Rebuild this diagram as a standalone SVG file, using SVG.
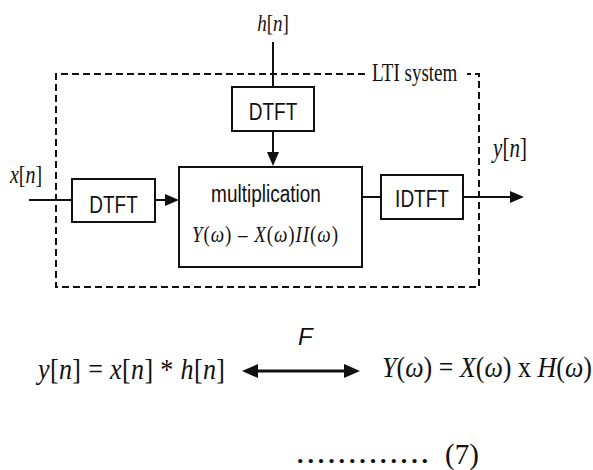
<svg xmlns="http://www.w3.org/2000/svg" width="593" height="470" viewBox="0 0 593 470">
  <style>
    .box { fill: #fff; stroke: #111; stroke-width: 2; }
    .wire { fill: none; stroke: #111; stroke-width: 2; }
    .sans { font-family: "Liberation Sans", Arial, sans-serif; fill: #111; }
    .serif { font-family: "Liberation Serif", "Times New Roman", serif; fill: #111; }
    .it { font-style: italic; }
    .mid { text-anchor: middle; }
  </style>
  <defs>
    <marker id="arr" markerUnits="userSpaceOnUse" markerWidth="14" markerHeight="12" refX="10" refY="6" orient="auto">
      <path d="M0,0 L14,6 L0,12 z" fill="#111"/>
    </marker>
    <marker id="arrBig" markerUnits="userSpaceOnUse" markerWidth="16" markerHeight="14" refX="12" refY="7" orient="auto-start-reverse">
      <path d="M0,0 L16,7 L0,14 z" fill="#111"/>
    </marker>
  </defs>
  <rect width="593" height="470" fill="#fff"/>

  <g id="lti-system">
    <path d="M365,74 H56 V287 H479 V74 H467" fill="none" stroke="#111" stroke-width="2" stroke-dasharray="7 4"/>
    <text class="serif" font-size="19" transform="translate(372,81) scale(1,1.27)">LTI system</text>
  </g>

  <g id="connectors">
    <line class="wire" x1="273" y1="42" x2="273" y2="87"/>
    <line class="wire" x1="273" y1="131" x2="273" y2="162" marker-end="url(#arr)"/>
    <line class="wire" x1="29" y1="200" x2="72" y2="200"/>
    <line class="wire" x1="155" y1="200" x2="175" y2="200" marker-end="url(#arr)"/>
    <line class="wire" x1="362" y1="197" x2="381" y2="197"/>
    <line class="wire" x1="463" y1="197" x2="520" y2="197" marker-end="url(#arr)"/>
  </g>

  <g id="label-h">
    <text class="serif mid" font-size="19" transform="translate(273,31) scale(1,1.25)"><tspan class="it">h</tspan>[<tspan class="it">n</tspan>]</text>
  </g>
  <g id="label-x">
    <text class="serif mid" font-size="20" transform="translate(26,183) scale(1,1.25)"><tspan class="it">x</tspan>[<tspan class="it">n</tspan>]</text>
  </g>
  <g id="label-y">
    <text class="serif mid" font-size="21" transform="translate(510,157) scale(1,1.25)"><tspan class="it">y</tspan>[<tspan class="it">n</tspan>]</text>
  </g>

  <g id="dtft-h">
    <rect class="box" x="232" y="87" width="82" height="44"/>
    <text class="sans mid" font-size="19" transform="translate(273,120) scale(1,1.3)">DTFT</text>
  </g>
  <g id="dtft-x">
    <rect class="box" x="72" y="179" width="83" height="43"/>
    <text class="sans mid" font-size="19" transform="translate(113.5,213) scale(1,1.3)">DTFT</text>
  </g>
  <g id="multiplication">
    <rect class="box" x="179" y="167" width="183" height="100"/>
    <text class="sans mid" font-size="19" transform="translate(266,202) scale(1,1.25)">multiplication</text>
    <text class="serif" font-size="19" textLength="146" lengthAdjust="spacing" transform="translate(192,242) scale(1,1.25)"><tspan class="it">Y</tspan>(<tspan class="it">ω</tspan>) – <tspan class="it">X</tspan>(<tspan class="it">ω</tspan>)<tspan class="it">II</tspan>(<tspan class="it">ω</tspan>)</text>
  </g>
  <g id="idtft">
    <rect class="box" x="381" y="175" width="82" height="44"/>
    <text class="sans mid" font-size="19" transform="translate(422,207) scale(1,1.3)">IDTFT</text>
  </g>

  <g id="equation">
    <text class="sans it" font-size="24" x="298" y="345">F</text>
    <text class="serif" font-size="26" textLength="187" lengthAdjust="spacing" transform="translate(38,379) scale(1,1.12)"><tspan class="it">y</tspan>[<tspan class="it">n</tspan>] = <tspan class="it">x</tspan>[<tspan class="it">n</tspan>] * <tspan class="it">h</tspan>[<tspan class="it">n</tspan>]</text>
    <line x1="246" y1="371" x2="356" y2="371" stroke="#111" stroke-width="3" marker-start="url(#arrBig)" marker-end="url(#arrBig)"/>
    <text class="serif" font-size="26" textLength="210" lengthAdjust="spacing" transform="translate(382,377) scale(1,1.12)"><tspan class="it">Y</tspan>(<tspan class="it">ω</tspan>) = <tspan class="it">X</tspan>(<tspan class="it">ω</tspan>) x <tspan class="it">H</tspan>(<tspan class="it">ω</tspan>)</text>
    <text class="serif" font-size="26" font-weight="bold" x="297" y="463" textLength="131" lengthAdjust="spacing">.............</text>
    <text class="serif" font-size="29" x="445" y="464">(7)</text>
  </g>
</svg>
